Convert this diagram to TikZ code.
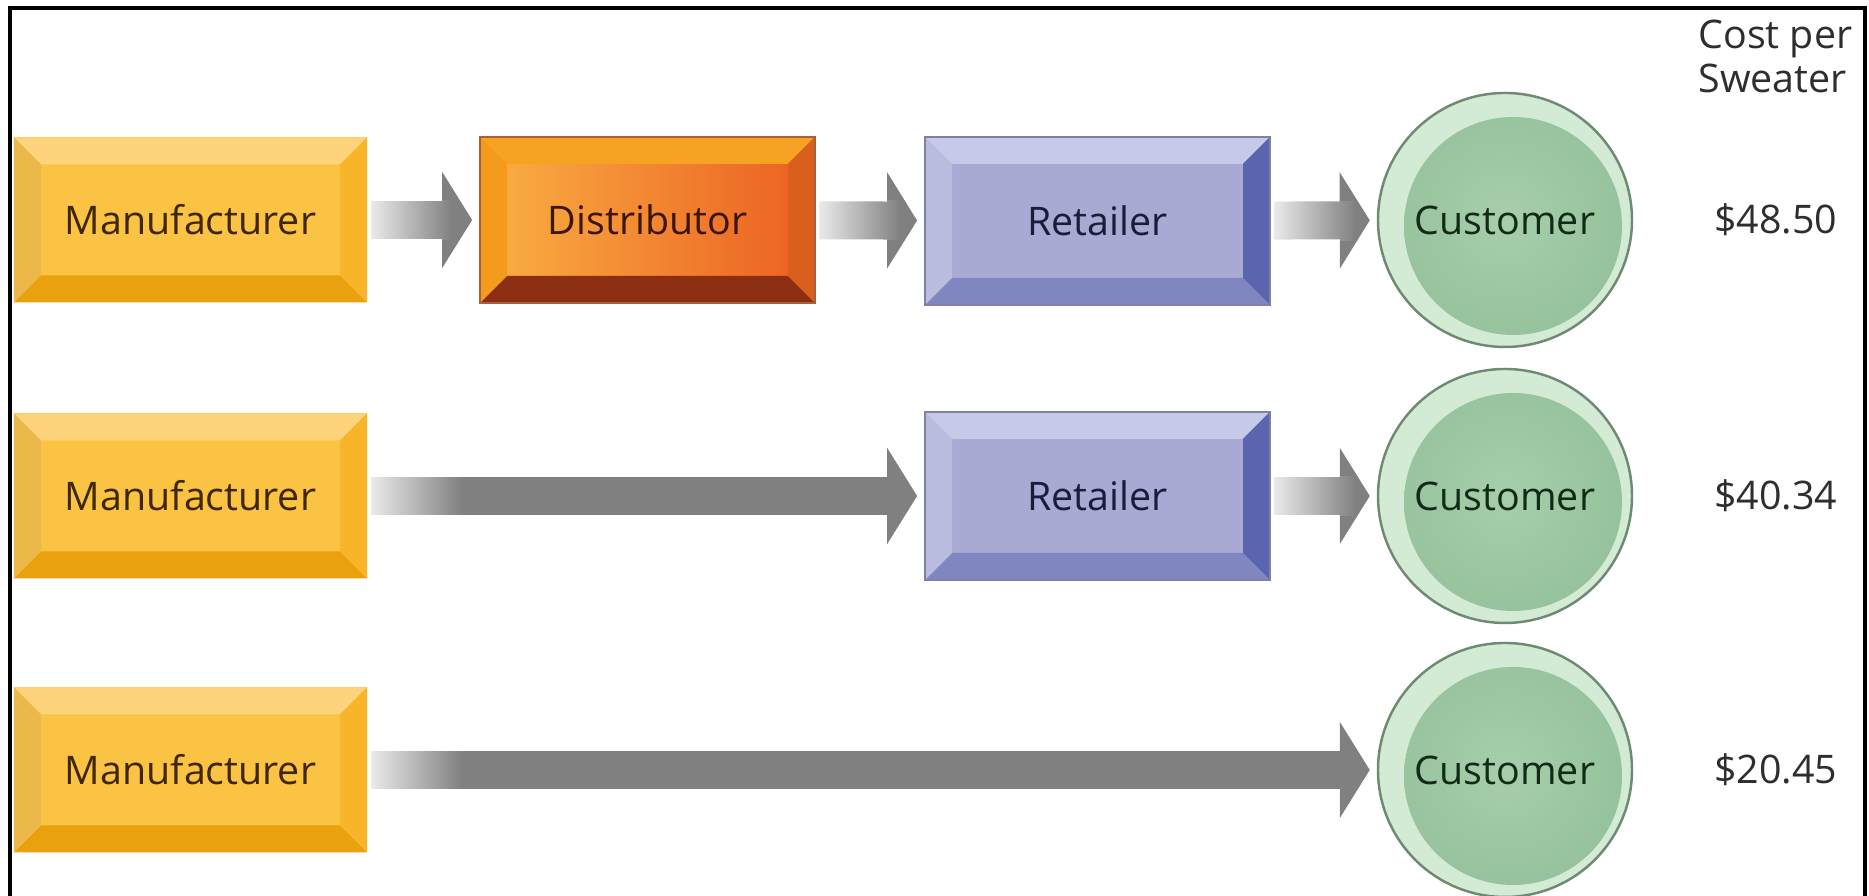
\documentclass[tikz,border=0pt]{standalone}
\usepackage{fontspec}
\setmainfont{Open Sans}
\usetikzlibrary{arrows.meta,fadings}

\definecolor{arrowgray}{HTML}{808080}
\definecolor{mface}{HTML}{FBC343}
\definecolor{mtop}{HTML}{FDD47C}
\definecolor{mbot}{HTML}{E9A10E}
\definecolor{mleft}{HTML}{EDB84A}
\definecolor{mright}{HTML}{F8B52A}
\definecolor{mtext}{HTML}{3D2600}
\definecolor{dlface}{HTML}{F9B143}
\definecolor{drface}{HTML}{EC5E22}
\definecolor{dtop}{HTML}{F6A223}
\definecolor{dbot}{HTML}{8C2E12}
\definecolor{dleft}{HTML}{F49B1D}
\definecolor{dright}{HTML}{D8601C}
\definecolor{dborder}{HTML}{A8603A}
\definecolor{dtext}{HTML}{3A1600}
\definecolor{rface}{HTML}{A8AAD4}
\definecolor{rtop}{HTML}{C7C9E8}
\definecolor{rbot}{HTML}{8087C0}
\definecolor{rleft}{HTML}{B9BBDF}
\definecolor{rright}{HTML}{5B64AE}
\definecolor{rborder}{HTML}{7E80A8}
\definecolor{rtext}{HTML}{1B1B3A}
\definecolor{cring}{HTML}{D3EAD5}
\definecolor{cborder}{HTML}{6E8A73}
\definecolor{cinner}{HTML}{A7CEAB}
\definecolor{couter}{HTML}{94C19B}
\definecolor{ctext}{HTML}{112B17}
\definecolor{pricetext}{HTML}{2E2E2E}

\tikzset{
  boxfont/.style={font=\fontsize{11.2}{12.5}\selectfont},
  bevel/.style n args={4}{path picture={
    \fill[#1] (path picture bounding box.north west) -- (path picture bounding box.north east)
      -- ([shift={(-0.27,-0.27)}]path picture bounding box.north east)
      -- ([shift={(0.27,-0.27)}]path picture bounding box.north west) -- cycle;
    \fill[#2] (path picture bounding box.south west) -- (path picture bounding box.south east)
      -- ([shift={(-0.27,0.27)}]path picture bounding box.south east)
      -- ([shift={(0.27,0.27)}]path picture bounding box.south west) -- cycle;
    \fill[#3] (path picture bounding box.north west) -- (path picture bounding box.south west)
      -- ([shift={(0.27,0.27)}]path picture bounding box.south west)
      -- ([shift={(0.27,-0.27)}]path picture bounding box.north west) -- cycle;
    \fill[#4] (path picture bounding box.north east) -- (path picture bounding box.south east)
      -- ([shift={(-0.27,0.27)}]path picture bounding box.south east)
      -- ([shift={(-0.27,-0.27)}]path picture bounding box.north east) -- cycle;
  }},
  maker/.style={rectangle, inner sep=0pt, minimum width=3.53cm, minimum height=1.65cm,
    fill=mface, text=mtext, boxfont, bevel={mtop}{mbot}{mleft}{mright}},
  distrib/.style={rectangle, inner sep=0pt, minimum width=3.35cm, minimum height=1.66cm,
    left color=dlface, right color=drface, draw=dborder, line width=0.5pt, text=dtext, boxfont,
    bevel={dtop}{dbot}{dleft}{dright}},
  retail/.style={rectangle, inner sep=0pt, minimum width=3.45cm, minimum height=1.68cm,
    fill=rface, draw=rborder, line width=0.5pt, text=rtext, boxfont,
    bevel={rtop}{rbot}{rleft}{rright}},
  buyer/.style={circle, inner sep=0pt, minimum size=2.54cm, fill=cring, draw=cborder,
    line width=0.7pt, text=ctext, boxfont, path picture={
    \shade[inner color=cinner, outer color=couter]
      ([shift={(0.08,-0.06)}]path picture bounding box.center) circle (1.09cm);}},
  price/.style={anchor=west, text=pricetext, boxfont},
  flow/.style={draw=arrowgray, line width=0.38cm, -{Triangle[length=0.3cm, width=0.95cm]},
    shorten <=0.03cm, shorten >=0.07cm},
  fade/.style={fill=white, fill opacity=0.85, path fading=east}
}

\begin{document}
\begin{tikzpicture}
\useasboundingbox (0,0) rectangle (18.69,8.96);
%frame
\draw[line width=0.04cm] (0.1,0)--(0.1,8.88)--(18.65,8.88)--(18.65,0);
%heading
\begin{scope}
\clip (0.1,0) rectangle (18.63,8.86);
\node[anchor=north west, align=left, text=pricetext, boxfont] (head) at(16.86, 8.88) {Cost per\\Sweater};
\end{scope}
%row 1
\node[maker] (m1) at(1.905, 6.76) {Manufacturer};
\node[distrib] (d1) at(6.475, 6.76) {Distributor};
\node[retail] (r1) at(10.975, 6.75) {Retailer};
\node[buyer] (c1) at(15.05, 6.76) {Customer};
\node[price] (p1) at(17.02, 6.76) {\$48.50};
%row 2
\node[maker] (m2) at(1.905, 4.0) {Manufacturer};
\node[retail] (r2) at(10.975, 4.0) {Retailer};
\node[buyer] (c2) at(15.05, 4.0) {Customer};
\node[price] (p2) at(17.02, 4.0) {\$40.34};
%row 3
\node[maker] (m3) at(1.905, 1.26) {Manufacturer};
\node[buyer] (c3) at(15.05, 1.26) {Customer};
\node[price] (p3) at(17.02, 1.26) {\$20.45};
%arrows
\draw[flow] (m1)--(d1);
\draw[flow] (d1)--(r1);
\draw[flow] (r1)--(c1);
\draw[flow] (m2)--(r2);
\draw[flow] (r2)--(c2);
\draw[flow] (m3)--(c3);
%faded arrow starts
\path[fade] ([shift={(0.02,-0.2)}]m1.east) rectangle ([shift={(0.85,0.2)}]m1.east);
\path[fade] ([shift={(0.02,-0.2)}]d1.east) rectangle ([shift={(0.85,0.2)}]d1.east);
\path[fade] ([shift={(0.02,-0.2)}]r1.east) rectangle ([shift={(0.85,0.2)}]r1.east);
\path[fade] ([shift={(0.02,-0.2)}]m2.east) rectangle ([shift={(0.95,0.2)}]m2.east);
\path[fade] ([shift={(0.02,-0.2)}]r2.east) rectangle ([shift={(0.85,0.2)}]r2.east);
\path[fade] ([shift={(0.02,-0.2)}]m3.east) rectangle ([shift={(0.95,0.2)}]m3.east);
\end{tikzpicture}
\end{document}
